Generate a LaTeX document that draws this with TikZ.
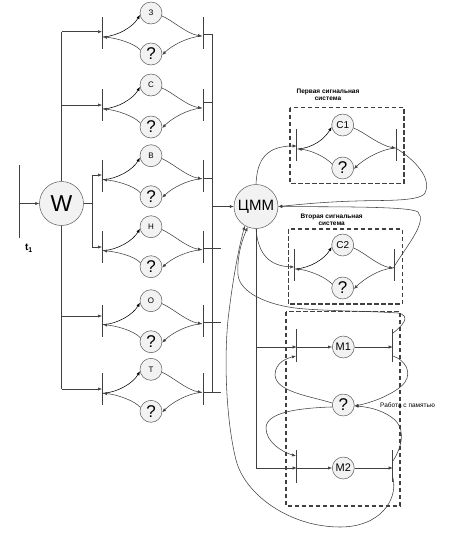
\documentclass[tikz,border=0pt]{standalone}
\usepackage{fontspec}
\setmainfont{Liberation Sans}
\usetikzlibrary{arrows.meta}
\definecolor{ln}{HTML}{404040}
\definecolor{cf}{HTML}{F2F2F2}
\definecolor{cb}{HTML}{5A5A5A}
\tikzset{
  conn/.style={draw=ln, line width=0.55pt},
  tip/.style={-{Latex[length=4pt,width=3.2pt]}},
  bar/.style={draw=ln, line width=0.9pt},
  circ/.style={circle, draw=cb, line width=0.5pt, fill=cf, inner sep=0pt},
  sm/.style={circ, minimum size=22pt, font=\fontsize{8}{8}\selectfont},
  qm/.style={circ, minimum size=22pt, font=\fontsize{17}{17}\selectfont},
  big/.style={circ, minimum size=44pt},
  dbox/.style={draw=ln, line width=1.5pt, dash pattern=on 4.5pt off 2.5pt},
  lbl/.style={font=\bfseries\fontsize{6.5}{7}\selectfont, align=center, inner sep=0pt},
}
\newcommand\mkgroup[7]{%
  \node[sm] (#1t) at (#3,#5) {#6};
  \node[qm] (#1q) at (#3,#5+#7) {?};
  \coordinate (#1La) at (#2,#5+4);
  \coordinate (#1Lb) at (#2,#5+36);
  \coordinate (#1Ra) at (#4,#5+4);
  \coordinate (#1Rb) at (#4,#5+36);
  \coordinate (#1PL) at (#2+1,#5+24);
  \coordinate (#1PR) at (#4-1,#5+23);
  \draw[bar] (#1La) -- (#1Lb);
  \draw[bar] (#1Ra) -- (#1Rb);
  \draw[conn,draw=black,tip] (#1PL) .. controls +(15,-1) and +(-7,12) .. (#1t.190);
  \draw[conn,tip] (#1t.-15) .. controls +(10,4) and +(-15,-2) .. (#1PR);
  \draw[conn,tip] (#1PR) .. controls +(-15,1) and +(9,-9) .. (#1q.-5);
  \draw[conn,tip] (#1q.160) .. controls +(-6,-7) and +(13,1) .. (#1PL);
}
\begin{document}
\begin{tikzpicture}[x=1pt,y=-1pt]
\useasboundingbox (0,0) rectangle (453,533);
% t1 and W
\coordinate (t1a) at (19.5,165); \coordinate (t1b) at (19.5,238);
\coordinate (t1m) at (19.5,203.5);
\draw[bar] (t1a) -- (t1b);
\node[big, font=\fontsize{23}{23}\selectfont] (W) at (61.5,203.5) {W};
\draw[conn,tip] (t1m) -- (W);
\node[font=\bfseries\fontsize{10}{10}\selectfont, inner sep=0pt] (t1lbl) at (29,248) {t\textsubscript{1}};
% groups
\mkgroup{g1}{102}{151}{203}{13}{З}{41}
\mkgroup{g2}{102}{151}{203}{85}{С}{42}
\mkgroup{g3}{102}{151}{203}{155.7}{В}{41}
\mkgroup{g4}{102}{151}{203}{226.7}{Н}{40}
\mkgroup{g5}{102}{151}{203}{300.7}{О}{41}
\mkgroup{g6}{102}{151}{203}{369.3}{Т}{42}
% left trunk
\coordinate (lt) at (61.5,31.7); \coordinate (lb) at (61.5,389);
\coordinate (i2) at (61.5,105); \coordinate (i5) at (61.5,316);
\draw[conn] (W.north) -- (lt);
\draw[conn] (W.south) -- (lb);
\draw[conn,tip] (lt) -- (lt -| g1La);
\draw[conn,tip] (i2) -- (i2 -| g2La);
\draw[conn,tip] (i5) -- (i5 -| g5La);
\draw[conn,tip] (lb) -- (lb -| g6La);
\coordinate (wr) at (92.3,203.5); \coordinate (wt) at (92.3,175); \coordinate (wb) at (92.3,247);
\draw[conn] (W.east) -- (wr);
\draw[conn] (wt) -- (wb);
\draw[conn,tip] (wt) -- (wt -| g3La);
\draw[conn,tip] (wb) -- (wb -| g4La);
% right bus
\coordinate (bt) at (212,34); \coordinate (bb) at (212,392.7);
\draw[conn] (bt) -- (bb);
\draw[conn] (bt -| g1Ra) -- (bt);
\coordinate (s2) at (212,102.3); \draw[conn] (s2 -| g2Ra) -- (s2);
\coordinate (s3) at (212,178.3); \draw[conn] (s3 -| g3Ra) -- (s3);
\coordinate (s4) at (220.5,248.3); \draw[conn] (s4 -| g4Ra) -- (s4);
\coordinate (s5) at (220.5,322); \draw[conn] (s5 -| g5Ra) -- (s5);
\coordinate (s6) at (220.5,392.7); \draw[conn, line width=1.2pt] (s6 -| g6Ra) -- (s6);
% CMM
\node[big, font=\fontsize{15}{15}\selectfont] (C) at (256,206.5) {ЦММ};
\coordinate (bc) at (212,206.5);
\draw[conn,tip] (bc) -- (C);
% first signal system
\draw[dbox] (290,107.7) rectangle (404,183.3);
\node[lbl] (l1) at (328,95) {Первая сигнальная\\система};
\mkgroup{c1}{296.7}{342.7}{396.7}{125}{\fontsize{10}{10}\selectfont С1}{43}
% second signal system
\draw[dbox] (288.3,229) rectangle (402.3,304);
\node[lbl] (l2) at (331.7,220) {Вторая сигнальная\\система};
\mkgroup{c2}{294.3}{342.7}{394.3}{245}{\fontsize{10}{10}\selectfont С2}{43}
% CMM <-> signal systems
\coordinate (c1in) at (296.7,146);
\draw[conn,tip] (C.north) .. controls (257,165) and (262,146) .. (c1in);
\draw[conn,tip] (c1PR) .. controls (415,160) and (432,178) .. (425,193)
   .. controls (420,202) and (380,200) .. (356,201)
   .. controls (320,202) and (295,205) .. (C.east);
\coordinate (c2in) at (294.3,267);
\draw[conn,tip] (C.south) .. controls (258,255) and (270,266) .. (c2in);
\draw[conn,tip] (c2PR) .. controls (405,248) and (428,222) .. (418,212)
   .. controls (410,206) and (330,207) .. (C.east);
% memory
\draw[dbox] (286,311.7) rectangle (400,506);
\coordinate (m1La) at (296.7,329.3); \coordinate (m1Lb) at (296.7,361.7);
\coordinate (m1Ra) at (392.7,329.3); \coordinate (m1Rb) at (392.7,361.7);
\coordinate (m2La) at (296.7,450); \coordinate (m2Lb) at (296.7,482.7);
\coordinate (m2Ra) at (392.7,450); \coordinate (m2Rb) at (392.7,482);
\draw[bar] (m1La) -- (m1Lb); \draw[bar] (m1Ra) -- (m1Rb);
\draw[bar] (m2La) -- (m2Lb); \draw[bar] (m2Ra) -- (m2Rb);
\node[sm, font=\fontsize{11}{11}\selectfont] (M1) at (343.3,347) {М1};
\node[qm] (Mq) at (343.3,405) {?};
\node[sm, font=\fontsize{11}{11}\selectfont] (M2) at (343.3,468) {М2};
\coordinate (v1) at (256,347); \coordinate (vb) at (256,468);
\draw[conn] (C.south) -- (vb);
\draw[conn,tip] (v1) -- (v1 -| m1La);
\draw[conn,tip] (v1 -| m1La) -- (M1);
\draw[conn,tip] (M1) -- (M1 -| m1Ra);
\draw[conn,tip] (vb) -- (vb -| m2La);
\draw[conn,tip] (vb -| m2La) -- (M2);
\draw[conn,tip] (M2) -- (M2 -| m2Ra);
\coordinate (m1o) at (393,356); \coordinate (m1i) at (296,356);
\coordinate (m2o) at (393,461); \coordinate (m2i) at (296,456);
\draw[conn,tip] (m1o) .. controls (405,360) and (412,372) .. (405,382)
   .. controls (398,392) and (375,402) .. (Mq.-5);
\draw[conn,tip] (m2o) .. controls (400,450) and (407,432) .. (395,420)
   .. controls (385,411) and (370,407) .. (Mq.-5);
\draw[conn,tip] (Mq.170) .. controls (310,396) and (276,392) .. (275,375)
   .. controls (275,362) and (288,358) .. (m1i);
\draw[conn,tip] (Mq.190) .. controls (300,408) and (266,412) .. (266,428)
   .. controls (266,442) and (282,452) .. (m2i);
\node[font=\fontsize{6.5}{7}\selectfont, anchor=west, inner sep=0pt] (mem) at (380,405) {Работа с памятью};
% memory -> CMM
\coordinate (m1t) at (393,333); \coordinate (m2t) at (393,478);
\draw[conn,tip] (m1t) .. controls (402,326) and (412,316) .. (398,313)
   .. controls (370,311) and (320,311) .. (295,308)
   .. controls (265,304) and (240,292) .. (238,275)
   .. controls (237,260) and (240,245) .. (C.-112);
\draw[conn,tip] (m2t) .. controls (398,500) and (380,527) .. (340,527)
   .. controls (290,527) and (245,495) .. (236,460)
   .. controls (226,420) and (224,360) .. (228,320)
   .. controls (232,285) and (238,250) .. (C.-120);
\end{tikzpicture}
\end{document}
